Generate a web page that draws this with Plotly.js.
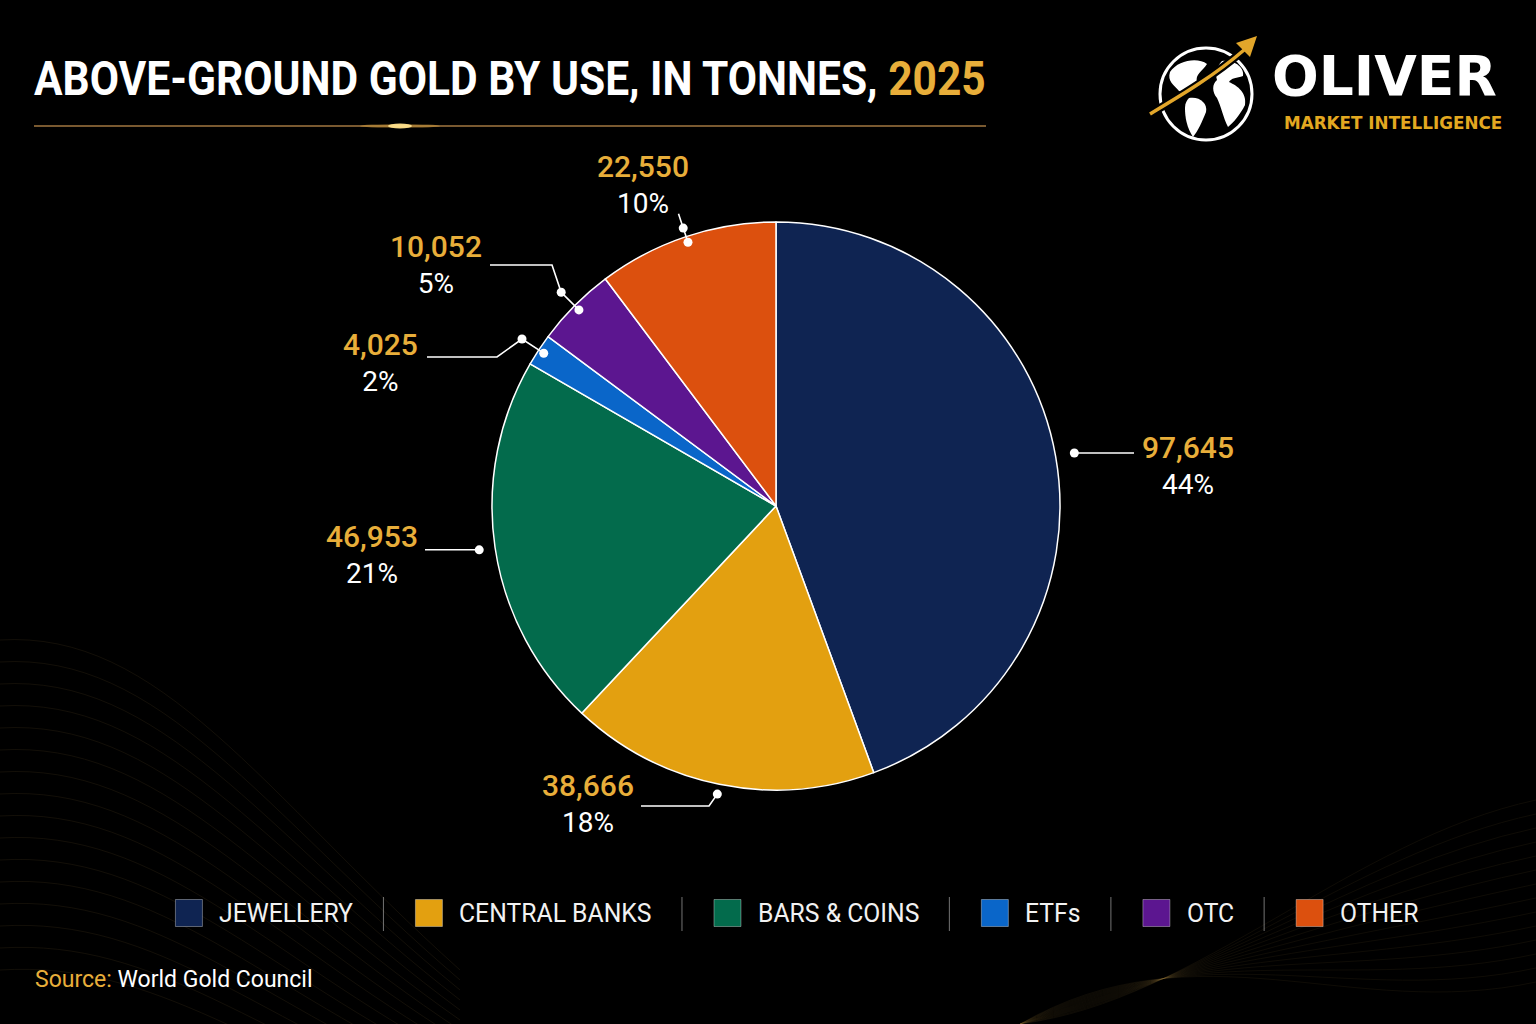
<!DOCTYPE html>
<html><head><meta charset="utf-8">
<script src="https://cdn.plot.ly/plotly-3.0.1.min.js"></script>
<style>html,body{margin:0;padding:0;background:#000;}#chart{width:1536px;height:1024px;}</style>
</head><body><div id="chart"></div>
<script>
// ---- data ----
const categories = ['JEWELLERY','CENTRAL BANKS','BARS & COINS','ETFs','OTC','OTHER'];
const tonnes = [97645, 38666, 46953, 4025, 10052, 22550];
const sliceColors = ['#0f2452','#e3a010','#036b4c','#0a66c9','#5c1690','#dc500e'];
const titleText = 'ABOVE-GROUND GOLD BY USE, IN TONNES, ';
const titleYear = '2025';
const sourceLabel = 'Source:';
const sourceText = 'World Gold Council';

// ---- layout helpers ----
const W = 1536, H = 1024;
const GOLD = '#e8ae3a';
const cx = 776, cy = 506, R = 284;
const X = v => v / W, Y = v => 1 - v / H;
const P = s => s.replace(/(-?\d+\.?\d*),(-?\d+\.?\d*)/g, (m,a,b) => X(+a).toFixed(5) + ',' + Y(+b).toFixed(5));

const shapes = [], annotations = [];

// decorative background waves
for (let i = 0; i < 16; i++) {
  const y0 = 640 + i * 22;
  shapes.push({type:'path', xref:'paper', yref:'paper', layer:'below',
    path: P(`M0,${y0} C160,${y0 - 10} 260,${y0 + 150 - i*4} 460,${y0 + 330 - i*12}`),
    line:{color:'rgba(190,150,80,0.10)', width:1}});
}
for (let i = 0; i < 14; i++) {
  const y0 = 800 + i * 14;
  shapes.push({type:'path', xref:'paper', yref:'paper', layer:'below',
    path: P(`M1020,1024 C1200,${1000 - i*6} 1350,${y0 + 40} 1536,${y0}`),
    line:{color:'rgba(190,150,80,0.08)', width:1}});
}

// title underline and glow
shapes.push({type:'line', xref:'paper', yref:'paper', x0:X(34), x1:X(986), y0:Y(126), y1:Y(126),
  line:{color:'rgba(190,140,75,0.85)', width:1.5}});
shapes.push({type:'circle', xref:'paper', yref:'paper', x0:X(360), x1:X(440), y0:Y(124), y1:Y(128),
  fillcolor:'rgba(255,190,70,0.35)', line:{width:0}});
shapes.push({type:'circle', xref:'paper', yref:'paper', x0:X(388), x1:X(412), y0:Y(123.5), y1:Y(128.5),
  fillcolor:'rgba(255,225,140,0.95)', line:{width:0}});

// logo globe
shapes.push({type:'circle', xref:'paper', yref:'paper', x0:X(1160), x1:X(1252), y0:Y(140), y1:Y(48),
  line:{color:'#ffffff', width:3}});
[
 'M1170,72 C1178,60 1198,57 1207,64 C1202,72 1195,74 1197,82 C1191,88 1186,94 1179,91 C1174,85 1167,81 1170,72 Z',
 'M1189,98 C1199,96 1208,103 1206,112 C1202,122 1198,131 1193,137 C1187,128 1185,118 1185,108 C1185,103 1187,100 1189,98 Z',
 'M1222,61 C1233,59 1245,67 1243,76 C1237,78 1231,78 1229,82 C1238,86 1247,93 1245,105 C1240,115 1233,123 1228,127 C1223,117 1221,106 1217,98 C1212,92 1212,84 1217,80 C1215,73 1217,66 1222,61 Z'
].forEach(p => shapes.push({type:'path', xref:'paper', yref:'paper', path:P(p), fillcolor:'#ffffff', line:{width:0}}));
shapes.push({type:'path', xref:'paper', yref:'paper', path:P('M1150,114 C1180,96 1214,76 1244,50'),
  line:{color:'#000000', width:8}});
shapes.push({type:'path', xref:'paper', yref:'paper', path:P('M1150,114 C1180,96 1214,76 1244,50'),
  line:{color:'#e2a62a', width:3.5}});
shapes.push({type:'path', xref:'paper', yref:'paper', path:P('M1257,36 L1236,43 L1250,57 Z'),
  fillcolor:'#e2a62a', line:{width:0}});

annotations.push({xref:'paper', yref:'paper', x:X(1270), y:Y(76), xanchor:'left', yanchor:'middle', showarrow:false,
  text:'OLIVER', font:{family:'DejaVu Sans', size:55, weight:700, color:'#ffffff'}});
annotations.push({xref:'paper', yref:'paper', x:X(1282), y:Y(123), xanchor:'left', yanchor:'middle', showarrow:false,
  text:'MARKET INTELLIGENCE', font:{family:'DejaVu Sans', size:16.8, weight:700, color:'#e3a820'}});

// ---- pie labels (positions computed from data angles) ----
const total = tonnes.reduce((a,b) => a + b, 0);
const labelCfg = [
  {dots:[303], lineEndX:1134, textX:1140, anchor:'left', textDy:12},
  {dots:[294], elbowX:709, lineY:806, lineEndX:641, textX:636, anchor:'right', textDy:-3},
  {dots:[300], lineEndX:425, textX:420, anchor:'right', textDy:5},
  {dots:[278,304], elbowX:497, lineY:357, lineEndX:427, textX:420, anchor:'right', textDy:5},
  {dots:[278,303], elbowX:552, lineY:265, lineEndX:490, textX:484, anchor:'right', textDy:-1},
  {dots:[278,293], endR:308, textX:643, textY:184, anchor:'center'}
];
let cum = 0;
tonnes.forEach((v, i) => {
  const f = (cum + v / 2) / total; cum += v;
  const th = 2 * Math.PI * f;
  const dx = Math.sin(th), dy = -Math.cos(th);
  const c = labelCfg[i];
  const pts = c.dots.map(r => [cx + dx * r, cy + dy * r]);
  const last = pts[pts.length - 1];
  const path = pts.slice();
  let lineY;
  if (c.endR) {
    path.push([cx + dx * c.endR, cy + dy * c.endR]);
  } else {
    lineY = (c.lineY != null) ? c.lineY : last[1];
    if (c.elbowX != null) path.push([c.elbowX, lineY]);
    path.push([c.lineEndX, lineY]);
  }
  shapes.push({type:'path', xref:'paper', yref:'paper',
    path: P('M' + path.map(p => p[0].toFixed(1) + ',' + p[1].toFixed(1)).join(' L')),
    line:{color:'#ffffff', width:1.6}});
  pts.forEach(p => shapes.push({type:'circle', xref:'paper', yref:'paper',
    x0:X(p[0]-4.5), x1:X(p[0]+4.5), y0:Y(p[1]+4.5), y1:Y(p[1]-4.5), fillcolor:'#ffffff', line:{width:0}}));
  const pct = Math.round(v / total * 100);
  const ty = c.textY != null ? c.textY : lineY + c.textDy;
  annotations.push({xref:'paper', yref:'paper', x:X(c.textX), y:Y(ty), xanchor:c.anchor, yanchor:'middle',
    align:'center', showarrow:false,
    text:`<span style="color:${GOLD};font-size:30px;font-weight:500">${v.toLocaleString('en-US')}</span><br>${pct}%`,
    font:{family:'Roboto', size:28, color:'#ffffff'}});
});

// ---- custom legend (condensed Roboto) ----
const cv = document.createElement('canvas').getContext('2d');
const legFont = 26;
cv.font = `400 ${legFont}px Roboto`;
const legScale = 134 / cv.measureText(categories[0]).width;
const sq = 27, gapSq = 15, gapSep = 32;
const widths = categories.map(t => cv.measureText(t).width * legScale);
let totalW = 0;
widths.forEach((w, i) => { totalW += sq + gapSq + w; if (i < widths.length - 1) totalW += 2 * gapSep; });
let lx = 796 - totalW / 2;
const ly = 913;
const legendAnnIdx = [];
categories.forEach((t, i) => {
  shapes.push({type:'rect', xref:'paper', yref:'paper', x0:X(lx), x1:X(lx + sq), y0:Y(ly + sq/2), y1:Y(ly - sq/2),
    fillcolor:sliceColors[i], line:{color:'rgba(255,255,255,0.35)', width:1}});
  legendAnnIdx.push(annotations.length);
  annotations.push({xref:'paper', yref:'paper', x:X(lx + sq + gapSq), y:Y(ly), xanchor:'left', yanchor:'middle',
    showarrow:false, text:t, font:{family:'Roboto', size:legFont, color:'#f2f2f2'}});
  lx += sq + gapSq + widths[i];
  if (i < categories.length - 1) {
    lx += gapSep;
    shapes.push({type:'line', xref:'paper', yref:'paper', x0:X(lx), x1:X(lx), y0:Y(897), y1:Y(931),
      line:{color:'rgba(255,255,255,0.45)', width:1}});
    lx += gapSep;
  }
});

// source
annotations.push({xref:'paper', yref:'paper', x:X(33), y:Y(979), xanchor:'left', yanchor:'middle', showarrow:false,
  text:`<span style="color:${GOLD}">${sourceLabel}</span> ${sourceText}`,
  font:{family:'Roboto', size:23, color:'#ffffff'}});

const trace = {
  type:'pie', labels:categories, values:tonnes, sort:false, direction:'clockwise', rotation:0,
  marker:{colors:sliceColors, line:{color:'#ffffff', width:1.5}},
  textinfo:'none', hoverinfo:'label+value+percent', showlegend:false,
  domain:{x:[X(cx - R), X(cx + R)], y:[Y(cy + R), Y(cy - R)]}
};

const layout = {
  width:W, height:H, margin:{l:0, r:0, t:0, b:0},
  paper_bgcolor:'#000000', plot_bgcolor:'#000000',
  title:{text:`${titleText}<span style="color:${GOLD}">${titleYear}</span>`, xref:'paper', yref:'paper',
    x:X(34), xanchor:'left', y:Y(78), yanchor:'middle',
    font:{family:'Roboto', size:49, weight:700, color:'#ffffff'}},
  showlegend:false, shapes:shapes, annotations:annotations
};

// horizontally condense an svg text element around its left edge
function condense(el, sx) {
  if (!el) return;
  const bb = el.getBBox();
  const prev = el.getAttribute('transform') || '';
  el.setAttribute('transform', `${prev} translate(${bb.x},0) scale(${sx},1) translate(${-bb.x},0)`);
}

Plotly.newPlot('chart', [trace], layout, {displayModeBar:false, staticPlot:true}).then(gd => {
  const t = gd.querySelector('.g-gtitle text');
  if (t) { const bb = t.getBBox(); condense(t, 952 / bb.width); }
  legendAnnIdx.forEach(k => {
    const el = gd.querySelector(`.annotation[data-index="${k}"] text`);
    condense(el, legScale);
  });
});
</script></body></html>
